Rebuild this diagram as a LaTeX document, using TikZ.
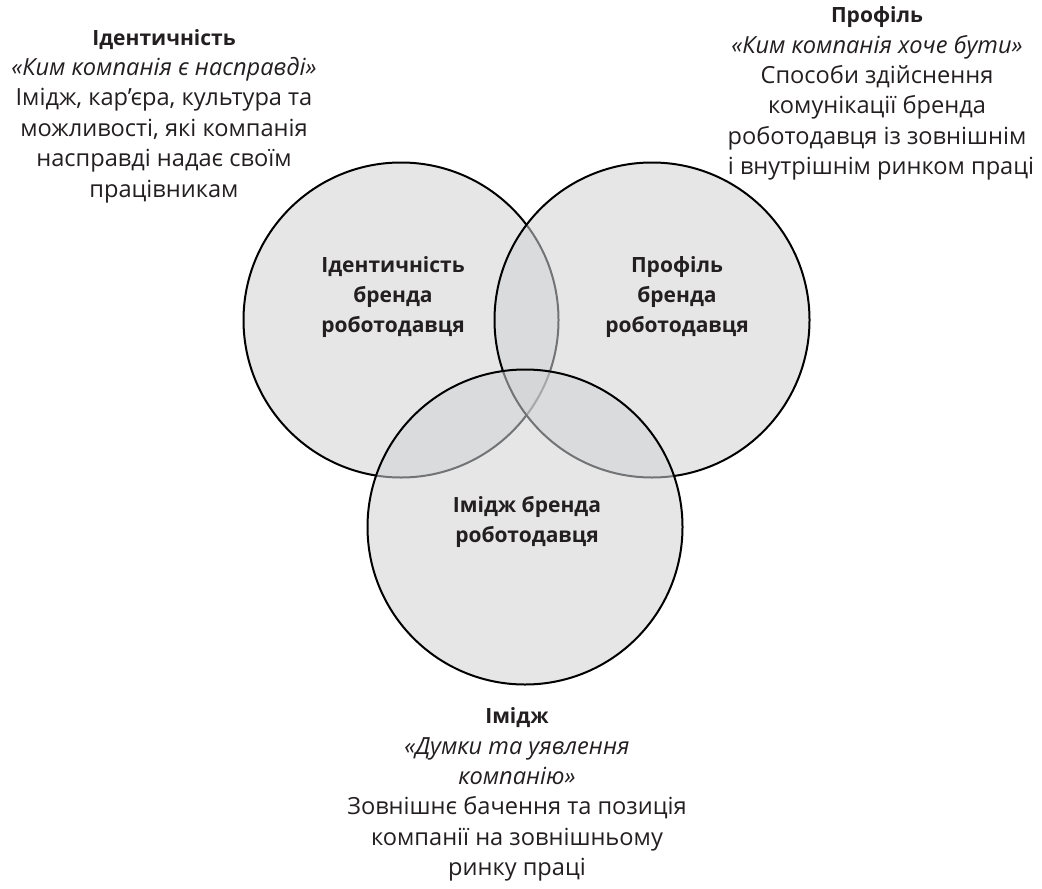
\documentclass[tikz,border=0pt]{standalone}
\usepackage{fontspec}
\setmainfont{Open Sans}
\definecolor{txt}{RGB}{35,31,32}
\definecolor{vennfill}{RGB}{209,210,212}
\begin{document}
\begin{tikzpicture}[x=0.5pt,y=-0.5pt,
  venn/.style={circle, minimum size=157.5pt, inner sep=0pt, draw=black, line width=1pt,
    fill=vennfill, fill opacity=0.55, draw opacity=1},
  lbl/.style={align=center, text=txt, inner sep=0pt, font=\fontsize{10.5}{15}\selectfont\bfseries},
  desc/.style={align=center, text=txt, inner sep=0pt, font=\fontsize{11.8}{15.2}\selectfont}]
\useasboundingbox (0,0) rectangle (1042,888);
\node[venn] (L) at (401,320) {};
\node[venn] (R) at (652,320) {};
\node[venn] (B) at (525,527) {};
\node[lbl] (Lt) at (393,297) {Ідентичність\\бренда\\роботодавця};
\node[lbl] (Rt) at (677,297) {Профіль\\бренда\\роботодавця};
\node[lbl] (Bt) at (527,522) {Імідж бренда\\роботодавця};
\node[desc] (Ld) at (164,116) {{\fontsize{10.5}{15.2}\selectfont\bfseries Ідентичність}\\\textit{«Ким компанія є насправді»}\\Імідж, кар’єра, культура та\\можливості, які компанія\\насправді надає своїм\\працівникам};
\node[desc] (Rd) at (877,93.5) {{\fontsize{10.5}{15.2}\selectfont\bfseries Профіль}\\\textit{«Ким компанія хоче бути»}\\Способи здійснення\\комунікації бренда\\роботодавця із зовнішнім\\\hspace*{4pt}і внутрішнім ринком праці};
\node[desc] (Bd) at (517,794.5) {{\fontsize{10.5}{15.2}\selectfont\bfseries Імідж}\\\textit{«Думки та уявлення}\\\textit{компанію»}\\Зовнішнє бачення та позиція\\компанії на зовнішньому\\ринку праці};
\end{tikzpicture}
\end{document}
